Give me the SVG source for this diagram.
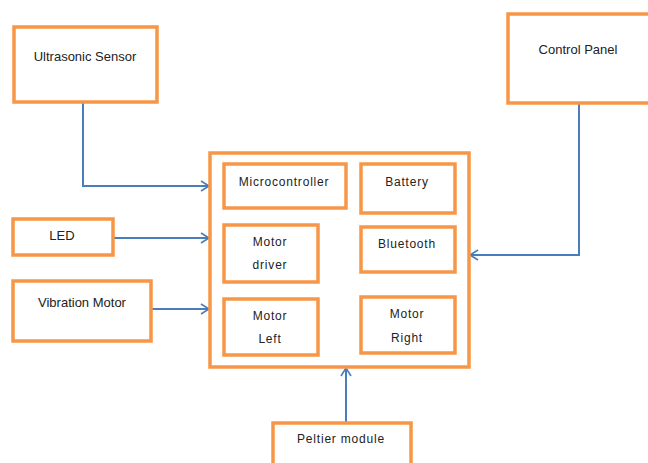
<svg xmlns="http://www.w3.org/2000/svg" width="648" height="463" viewBox="0 0 648 463">
<style>
.box{fill:#fff;stroke:#f79646;stroke-width:3.5}
.lbl{font-family:"Liberation Sans",Arial,sans-serif;font-size:13px;fill:#222;text-anchor:middle}
.sp{font-size:12px;letter-spacing:0.8px}
.con{fill:none;stroke:#4a7ebb;stroke-width:2}
</style>
<defs>
<marker id="arr" markerWidth="12" markerHeight="12" refX="10" refY="6" orient="auto" markerUnits="userSpaceOnUse">
<path d="M2,1 L10,6 L2,11" fill="none" stroke="#4a7ebb" stroke-width="1.6"/>
</marker>
</defs>
<rect width="648" height="463" fill="#fff"/>
<g id="connectors">
<path class="con" d="M83,103 V186 H209" marker-end="url(#arr)"/>
<path class="con" d="M113,238 H209" marker-end="url(#arr)"/>
<path class="con" d="M152,309 H209" marker-end="url(#arr)"/>
<path class="con" d="M579,103 V255 H470" marker-end="url(#arr)"/>
<path class="con" d="M346,422 V368" marker-end="url(#arr)"/>
</g>
<g id="ultrasonic">
<rect class="box" x="14" y="27" width="143" height="75"/>
<text class="lbl" x="85" y="61">Ultrasonic Sensor</text>
</g>
<g id="control-panel">
<rect class="box" x="508" y="14" width="150" height="89"/>
<text class="lbl" x="578" y="54">Control Panel</text>
</g>
<g id="led">
<rect class="box" x="13" y="219" width="100" height="36"/>
<text class="lbl" x="62" y="240">LED</text>
</g>
<g id="vibration">
<rect class="box" x="13" y="281" width="138" height="60"/>
<text class="lbl" x="82" y="307">Vibration Motor</text>
</g>
<g id="peltier">
<rect class="box" x="273" y="423" width="138" height="50"/>
<text class="lbl sp" x="341" y="443">Peltier module</text>
</g>
<g id="main">
<rect class="box" x="210" y="153" width="259" height="214"/>
</g>
<g id="microcontroller">
<rect class="box" x="224" y="164" width="122" height="44"/>
<text class="lbl sp" x="284" y="186">Microcontroller</text>
</g>
<g id="battery">
<rect class="box" x="361" y="164" width="94" height="49"/>
<text class="lbl sp" x="407" y="186">Battery</text>
</g>
<g id="motor-driver">
<rect class="box" x="224" y="225" width="94" height="57"/>
<text class="lbl sp" x="270" y="246">Motor</text>
<text class="lbl sp" x="270" y="269">driver</text>
</g>
<g id="bluetooth">
<rect class="box" x="361" y="227" width="94" height="45"/>
<text class="lbl sp" x="407" y="248">Bluetooth</text>
</g>
<g id="motor-left">
<rect class="box" x="224" y="299" width="94" height="56"/>
<text class="lbl sp" x="270" y="320">Motor</text>
<text class="lbl sp" x="270" y="343">Left</text>
</g>
<g id="motor-right">
<rect class="box" x="361" y="297" width="94" height="56"/>
<text class="lbl sp" x="407" y="318">Motor</text>
<text class="lbl sp" x="407" y="342">Right</text>
</g>
</svg>
